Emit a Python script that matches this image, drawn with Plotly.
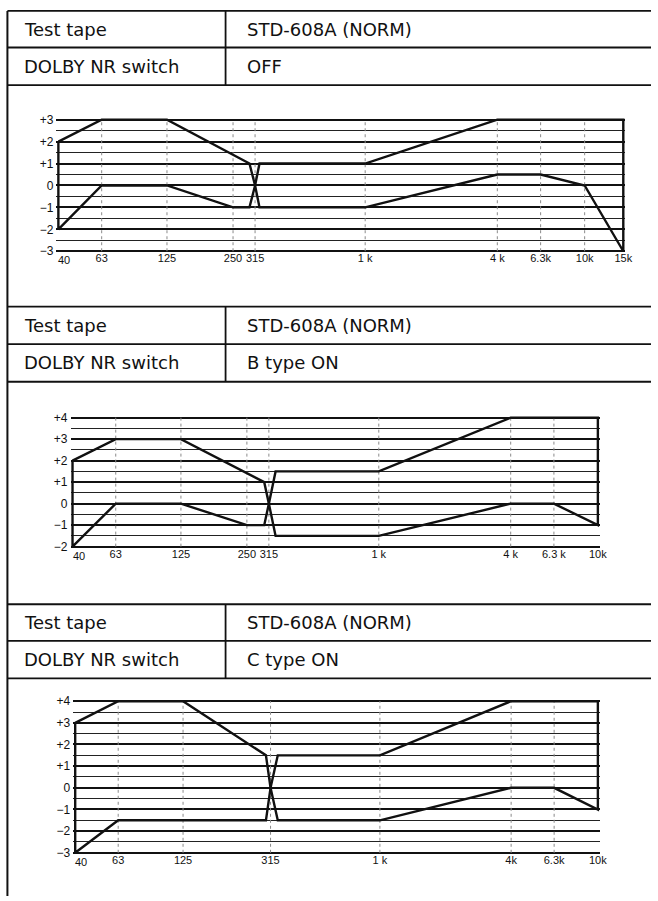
import math
import plotly.graph_objects as go

W, H = 658, 901

# ---------------- tolerance windows (frequency in Hz, level in dB) ----------------
# DOLBY NR OFF
off_lo_up_hz = [40, 63, 125, 297, 315]
off_lo_up_db = [2, 3, 3, 1, 0]
off_lo_dn_hz = [40, 63, 125, 250, 297, 315]
off_lo_dn_db = [-2, 0, 0, -1, -1, 0]
off_hi_up_hz = [315, 330, 1000, 4000, 15000]
off_hi_up_db = [0, 1, 1, 3, 3]
off_hi_dn_hz = [315, 330, 1000, 4000, 6300, 10000, 15000]
off_hi_dn_db = [0, -1, -1, 0.5, 0.5, 0, -3]

# DOLBY NR B type ON
b_lo_up_hz = [40, 63, 125, 300, 315]
b_lo_up_db = [2, 3, 3, 1, 0]
b_lo_dn_hz = [40, 63, 125, 250, 300, 315]
b_lo_dn_db = [-2, 0, 0, -1, -1, 0]
b_hi_up_hz = [315, 338, 1000, 4000, 10000]
b_hi_up_db = [0, 1.5, 1.5, 4, 4]
b_hi_dn_hz = [315, 338, 1000, 4000, 6300, 10000]
b_hi_dn_db = [0, -1.5, -1.5, 0, 0, -1]

# DOLBY NR C type ON
c_lo_up_hz = [40, 63, 125, 300, 315]
c_lo_up_db = [3, 4, 4, 1.5, 0]
c_lo_dn_hz = [40, 63, 300, 315]
c_lo_dn_db = [-3, -1.5, -1.5, 0]
c_hi_up_hz = [315, 340, 1000, 4000, 10000]
c_hi_up_db = [0, 1.5, 1.5, 4, 4]
c_hi_dn_hz = [315, 340, 1000, 4000, 6300, 10000]
c_hi_dn_db = [0, -1.5, -1.5, 0, 0, -1]

# ---------------- axis ticks ----------------
off_tick_hz = [40, 63, 125, 250, 315, 1000, 4000, 6300, 10000, 15000]
off_tick_txt = ["40", "63", "125", "250", "315", "1 k", "4 k", "6.3k", "10k", "15k"]
b_tick_hz = [40, 63, 125, 250, 315, 1000, 4000, 6300, 10000]
b_tick_txt = ["40", "63", "125", "250", "315", "1 k", "4 k", "6.3 k", "10k"]
c_tick_hz = [40, 63, 125, 315, 1000, 4000, 6300, 10000]
c_tick_txt = ["40", "63", "125", "315", "1 k", "4k", "6.3k", "10k"]

off_db_range = [-3, 3]
b_db_range = [-2, 4]
c_db_range = [-3, 4]

# ---------------- table text ----------------
row_label_1 = "Test tape"
row_label_2 = "DOLBY NR switch"
tape_name = "STD-608A (NORM)"
nr_settings = ["OFF", "B type ON", "C type ON"]

# Page layout of each block (pixels): table rule rows and plot box
blocks = [
    dict(rules=[6, 43, 81], box=(59, 630, 116, 249), fmax=15000, db=off_db_range,
         ticks=(off_tick_hz, off_tick_txt),
         windows=[(off_lo_up_hz, off_lo_up_db, off_lo_dn_hz, off_lo_dn_db, "low"),
                  (off_hi_up_hz, off_hi_up_db, off_hi_dn_hz, off_hi_dn_db, "high")]),
    dict(rules=[305, 343, 381], box=(73.3, 604.3, 417.3, 547.7), fmax=10000, db=b_db_range,
         ticks=(b_tick_hz, b_tick_txt),
         windows=[(b_lo_up_hz, b_lo_up_db, b_lo_dn_hz, b_lo_dn_db, "low"),
                  (b_hi_up_hz, b_hi_up_db, b_hi_dn_hz, b_hi_dn_db, "high")]),
    dict(rules=[606, 643, 681], box=(76, 604.3, 704, 857.3), fmax=10000, db=c_db_range,
         ticks=(c_tick_hz, c_tick_txt),
         windows=[(c_lo_up_hz, c_lo_up_db, c_lo_dn_hz, c_lo_dn_db, "low"),
                  (c_hi_up_hz, c_hi_up_db, c_hi_dn_hz, c_hi_dn_db, "high")]),
]

FONT = "DejaVu Sans"
TICK_FONT = "Liberation Sans"
INK = "#111111"
PAD = 2.0  # px of breathing room so edge strokes are not clipped

fig = go.Figure()
shapes = []
annotations = []


def xp(px):
    return px / W


def yp(py):
    return 1 - py / H


def hline(y, x0=7.5, x1=W, w=1.8):
    shapes.append(dict(type="line", xref="paper", yref="paper",
                       x0=xp(x0), x1=xp(x1), y0=yp(y), y1=yp(y),
                       line=dict(color=INK, width=w)))


def vline(x, y0, y1, w=1.8):
    shapes.append(dict(type="line", xref="paper", yref="paper",
                       x0=xp(x), x1=xp(x), y0=yp(y0), y1=yp(y1),
                       line=dict(color=INK, width=w)))


# outer left border of the sheet
vline(7.5, 6, H, w=2)

for i, blk in enumerate(blocks, start=1):
    r0, r1, r2 = blk["rules"]
    hline(r0)
    hline(r1)
    hline(r2)
    vline(228, r0, r2)
    for (ya, yb), left, right in (((r0, r1), row_label_1, tape_name),
                                  ((r1, r2), row_label_2, nr_settings[i - 1])):
        yc = (ya + yb) / 2
        annotations.append(dict(text=left, xref="paper", yref="paper", x=xp(22), y=yp(yc),
                                 xanchor="left", yanchor="middle", showarrow=False,
                                 font=dict(family=FONT, size=18, color=INK)))
        annotations.append(dict(text=right, xref="paper", yref="paper", x=xp(248), y=yp(yc),
                                 xanchor="left", yanchor="middle", showarrow=False,
                                 font=dict(family=FONT, size=18, color=INK)))

    # plot box with a small pad; the range is widened by the matching amount
    bx0, bx1, by0, by1 = blk["box"]
    lx0, lx1 = math.log10(40), math.log10(blk["fmax"])
    kx = (lx1 - lx0) / (bx1 - bx0)
    dmin, dmax = blk["db"]
    ky = (dmax - dmin) / (by1 - by0)
    xa = "xaxis" if i == 1 else f"xaxis{i}"
    ya_ = "yaxis" if i == 1 else f"yaxis{i}"
    xr = "x" if i == 1 else f"x{i}"
    yr = "y" if i == 1 else f"y{i}"

    tick_hz, tick_txt = blk["ticks"]
    # the first frequency label sits just right of the corner, clear of the dB labels
    axis_txt = [""] + list(tick_txt[1:])
    annotations.append(dict(text=tick_txt[0], xref=xr, yref=yr,
                             x=math.log10(tick_hz[0]), y=dmin,
                             xanchor="left", yanchor="top", xshift=-2, yshift=-1,
                             showarrow=False,
                             font=dict(family=TICK_FONT, size=11, color=INK)))
    fig.layout[xa] = dict(
        type="log", domain=[xp(bx0 - PAD), xp(bx1 + PAD)],
        range=[lx0 - PAD * kx, lx1 + PAD * kx], anchor=yr,
        tickmode="array", tickvals=tick_hz, ticktext=axis_txt, tickangle=0,
        ticklabelstandoff=-3,
        showgrid=False, zeroline=False, showline=False, ticks="",
        tickfont=dict(family=TICK_FONT, size=11, color=INK), fixedrange=True,
    )
    dvals = list(range(dmin, dmax + 1))
    dtxt = [("+%d" % v) if v > 0 else ("0" if v == 0 else "\u2212%d" % (-v)) for v in dvals]
    fig.layout[ya_] = dict(
        domain=[yp(by1 + PAD), yp(by0 - PAD)],
        range=[dmin - PAD * ky, dmax + PAD * ky], anchor=xr,
        tickmode="array", tickvals=dvals, ticktext=dtxt, ticklabelstandoff=2,
        showgrid=True, gridcolor=INK, gridwidth=1.5,
        minor=dict(dtick=0.5, tick0=0, showgrid=True, gridcolor="#222222", gridwidth=1.4, ticks=""),
        zeroline=False, showline=False, ticks="",
        tickfont=dict(family=TICK_FONT, size=12, color=INK), fixedrange=True,
    )

    # dotted frequency guides at the interior tick positions
    for f in tick_hz[1:-1]:
        fig.add_trace(go.Scatter(x=[f, f], y=[dmin, dmax], xaxis=xr, yaxis=yr, mode="lines",
                                 line=dict(color="#8a8a8a", width=1, dash="dot"),
                                 hoverinfo="skip", showlegend=False))

    # tolerance windows: upper edge out, lower edge back, closed with a vertical
    for up_hz, up_db, dn_hz, dn_db, side in blk["windows"]:
        xs = list(up_hz) + list(dn_hz[::-1])
        ys = list(up_db) + list(dn_db[::-1])
        if side == "low":
            xs.append(up_hz[0])
            ys.append(up_db[0])
        fig.add_trace(go.Scatter(x=xs, y=ys, xaxis=xr, yaxis=yr, mode="lines",
                                 line=dict(color=INK, width=2.4), hoverinfo="skip",
                                 showlegend=False))

fig.update_layout(
    width=W, height=H, margin=dict(l=0, r=0, t=0, b=0),
    paper_bgcolor="white", plot_bgcolor="white",
    shapes=shapes, annotations=annotations, showlegend=False,
)

fig.write_html("out.html")
